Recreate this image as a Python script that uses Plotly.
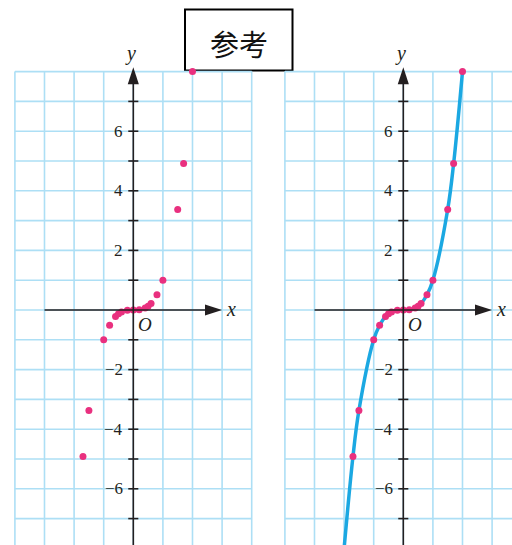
import plotly.graph_objects as go

# Sample points of the cubic, read as (x, y) pairs
x_vals = [-2, -1.7, -1.5, -1, -0.8, -0.6, -0.5, -0.4, -0.2, 0,
          0.2, 0.4, 0.5, 0.6, 0.8, 1, 1.5, 1.7, 2]
y_vals = [-8, -4.913, -3.375, -1, -0.512, -0.216, -0.125, -0.064, -0.008, 0,
          0.008, 0.064, 0.125, 0.216, 0.512, 1, 3.375, 4.913, 8]

# Labelled ticks on the y axis
y_tick_vals = [-6, -4, -2, 2, 4, 6]
y_tick_text = ["\u22126", "\u22124", "\u22122", "2", "4", "6"]
# Small tick marks on the y axis (every unit)
y_minor_ticks = [-7, -6, -5, -4, -3, -2, -1, 1, 2, 3, 4, 5, 6, 7]
# Graph-paper lines
grid_x = [-4, -3, -2, -1, 0, 1, 2, 3, 4]
grid_y = [-7, -6, -5, -4, -3, -2, -1, 0, 1, 2, 3, 4, 5, 6, 7, 8]

title_text = "参考"

W, H = 512, 545
GRID = "#addff5"
INK = "#231f20"
PINK = "#e9307f"
BLUE = "#1ba8e2"
SERIF = "Liberation Serif"

# Pixel geometry of the two panels (unit size and where the origin sits)
SX, SY = 29.6, 29.8
OX_LEFT, OX_RIGHT, OY = 133.3, 403.3, 310.0
LEFT_PX = (8, 258)
RIGHT_PX = (278, 512)

fig = go.Figure()

# Left panel: plotted points only
fig.add_trace(go.Scatter(
    x=x_vals, y=y_vals, mode="markers", xaxis="x", yaxis="y",
    marker=dict(color=PINK, size=7, line=dict(width=0)),
    cliponaxis=False, hoverinfo="skip", showlegend=False))

# Right panel: smooth curve through the same points, then the points
fig.add_trace(go.Scatter(
    x=x_vals, y=y_vals, mode="lines", xaxis="x2", yaxis="y2",
    line=dict(color=BLUE, width=3.5, shape="spline", smoothing=1.0),
    hoverinfo="skip", showlegend=False))
fig.add_trace(go.Scatter(
    x=x_vals, y=y_vals, mode="markers", xaxis="x2", yaxis="y2",
    marker=dict(color=PINK, size=7, line=dict(width=0)),
    cliponaxis=False, hoverinfo="skip", showlegend=False))

shapes = []
annotations = []

# Boxed heading (paper layer, beneath the panels)
shapes.append(dict(type="rect", xref="paper", yref="paper", layer="below",
                   x0=185 / W, x1=292.5 / W, y0=1 - 70.5 / H, y1=1 - 9.5 / H,
                   line=dict(color="black", width=2), fillcolor="white"))
annotations.append(dict(x=238.5 / W, y=1 - 43 / H, xref="paper", yref="paper",
                        text=title_text, showarrow=False,
                        xanchor="center", yanchor="middle",
                        font=dict(family="Noto Sans CJK SC", size=29, color="#111111")))

for xa, ya in (("x", "y"), ("x2", "y2")):
    # Graph paper
    for gx in grid_x:
        shapes.append(dict(type="line", xref=xa, yref=ya, layer="below",
                           x0=gx, x1=gx, y0=-9, y1=8,
                           line=dict(color=GRID, width=1.6)))
    for gy in grid_y:
        shapes.append(dict(type="line", xref=xa, yref=ya, layer="below",
                           x0=-4, x1=4, y0=gy, y1=gy,
                           line=dict(color=GRID, width=1.6)))
    # Arrowheads of the drawn coordinate axes
    fig.add_trace(go.Scatter(
        x=[3.0, 0], y=[0, 8.15], mode="markers", xaxis=xa, yaxis=ya,
        marker=dict(symbol="arrow", size=18, angle=[90, 0], color=INK,
                    line=dict(width=0)),
        cliponaxis=False, hoverinfo="skip", showlegend=False))
    # Axis lines
    shapes.append(dict(type="line", xref=xa, yref=ya, x0=-3, x1=2.5, y0=0, y1=0,
                       line=dict(color=INK, width=1.6)))
    shapes.append(dict(type="line", xref=xa, yref=ya, x0=0, x1=0, y0=-9, y1=7.7,
                       line=dict(color=INK, width=1.6)))
    # Tick marks on the y axis
    for t in y_minor_ticks:
        shapes.append(dict(type="line", xref=xa, yref=ya, x0=-0.17, x1=0.17,
                           y0=t, y1=t, line=dict(color=INK, width=1.6)))
    # Tick labels
    for v, txt in zip(y_tick_vals, y_tick_text):
        annotations.append(dict(x=-0.28, y=v, xref=xa, yref=ya, text=txt,
                                showarrow=False, xanchor="right", yanchor="middle",
                                font=dict(family=SERIF, size=17, color=INK)))
    # Axis names and origin
    annotations.append(dict(x=3.3, y=0.02, xref=xa, yref=ya, text="<i>x</i>",
                            showarrow=False, xanchor="center", yanchor="middle",
                            font=dict(family=SERIF, size=20, color=INK)))
    annotations.append(dict(x=-0.08, y=8.6, xref=xa, yref=ya, text="<i>y</i>",
                            showarrow=False, xanchor="center", yanchor="middle",
                            font=dict(family=SERIF, size=20, color=INK)))
    annotations.append(dict(x=0.38, y=-0.5, xref=xa, yref=ya, text="<i>O</i>",
                            showarrow=False, xanchor="center", yanchor="middle",
                            font=dict(family=SERIF, size=19, color=INK)))


def x_axis(px_span, origin):
    return dict(domain=[px_span[0] / W, px_span[1] / W],
                range=[(px_span[0] - origin) / SX, (px_span[1] - origin) / SX],
                visible=False, fixedrange=True)


y_range = [-(H - OY) / SY, OY / SY]
blank_y = dict(domain=[0, 1], range=y_range, visible=False, fixedrange=True)

fig.update_layout(
    width=W, height=H, autosize=False,
    margin=dict(l=0, r=0, t=0, b=0, pad=0),
    paper_bgcolor="white", plot_bgcolor="rgba(0,0,0,0)",
    xaxis=dict(anchor="y", **x_axis(LEFT_PX, OX_LEFT)),
    yaxis=dict(anchor="x", **blank_y),
    xaxis2=dict(anchor="y2", **x_axis(RIGHT_PX, OX_RIGHT)),
    yaxis2=dict(anchor="x2", **blank_y),
    shapes=shapes,
    annotations=annotations,
)

fig.write_html("out.html")
